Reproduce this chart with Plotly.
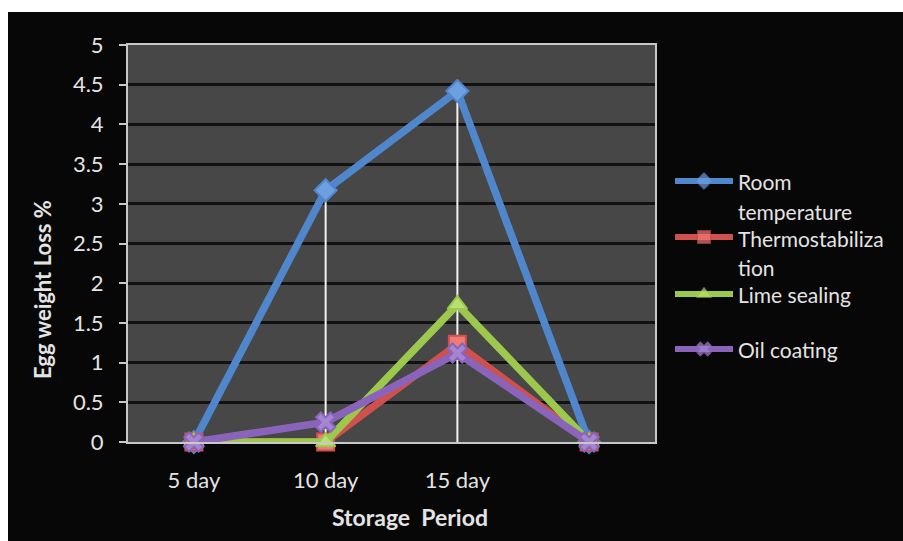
import plotly.graph_objects as go

# Storage period categories (the fourth slot is unlabeled)
periods = ["5 day", "10 day", "15 day", ""]

# Egg weight loss (%) per treatment
room_temperature = [0.0, 3.17, 4.42, 0.0]
thermostabilization = [0.0, 0.0, 1.23, 0.0]
lime_sealing = [0.0, 0.0, 1.73, 0.0]
oil_coating = [0.0, 0.25, 1.12, 0.0]

y_ticks = [0, 0.5, 1, 1.5, 2, 2.5, 3, 3.5, 4, 4.5, 5]

W, H = 903, 541
FONT = "Lato"
TEXT = "#E4E4E4"

series = [
    ("Room temperature", room_temperature, "#4F86CC", "diamond", "#6E9FE0"),
    ("Thermostabilization", thermostabilization, "#CF504C", "square", "#F07A74"),
    ("Lime sealing", lime_sealing, "#9CC84E", "triangle-up", "#B8E070"),
    ("Oil coating", oil_coating, "#8A64BA", "x", "#A585D0"),
]

x_idx = list(range(len(periods)))

fig = go.Figure()

# Drop lines from the highest series value down to the axis
all_vals = [s[1] for s in series]
dx, dy = [], []
for i in x_idx:
    top = max(v[i] for v in all_vals)
    if top > 0:
        dx += [i, i, None]
        dy += [0, top, None]
fig.add_trace(go.Scatter(x=dx, y=dy, mode="lines",
                         line=dict(color="#F2F2F2", width=2),
                         hoverinfo="skip", showlegend=False))

for name, vals, color, sym, mcolor in series:
    fig.add_trace(go.Scatter(
        x=x_idx, y=vals, mode="lines+markers", name=name,
        line=dict(color=color, width=7.5),
        marker=dict(symbol=sym, size=17, color=mcolor,
                    line=dict(color=color, width=2)),
        cliponaxis=False, showlegend=False,
    ))

# Legend keys: a small pixel-scaled subplot to the right of the chart
LX0, LX1, LY0, LY1 = 660, 750, 160, 370
legend_rows = [181, 237, 294, 349]
for (name, vals, color, sym, mcolor), yrow in zip(series, legend_rows):
    fig.add_trace(go.Scatter(
        x=[675, 704, 733], y=[yrow] * 3, mode="lines+markers",
        line=dict(color=color, width=6),
        marker=dict(symbol=sym, size=[0, 13, 0], color=mcolor,
                    line=dict(color=color, width=1)),
        xaxis="x2", yaxis="y2", showlegend=False, hoverinfo="skip",
    ))

annotations = []
legend_text_rows = [(["Room", "temperature"], [181, 211]),
                    (["Thermostabiliza", "tion"], [238, 267]),
                    (["Lime sealing"], [294]),
                    (["Oil coating"], [349])]
for texts, ys in legend_text_rows:
    for t, yy in zip(texts, ys):
        annotations.append(dict(
            x=736 / W, y=1 - yy / H, xref="paper", yref="paper",
            text=t, showarrow=False, xanchor="left", yanchor="middle",
            font=dict(family=FONT, size=21, color=TEXT),
        ))

annotations.append(dict(
    x=42 / W, y=1 - 290 / H, xref="paper", yref="paper",
    text="<b>Egg weight Loss %</b>", textangle=-90, showarrow=False,
    xanchor="center", yanchor="middle",
    font=dict(family=FONT, size=22, color=TEXT),
))
annotations.append(dict(
    x=410 / W, y=1 - 517 / H, xref="paper", yref="paper",
    text="<b>Storage  Period</b>", showarrow=False,
    xanchor="center", yanchor="middle",
    font=dict(family=FONT, size=23, color=TEXT),
))

fig.update_layout(
    width=W, height=H,
    margin=dict(l=0, r=0, t=0, b=0),
    paper_bgcolor="#070707",
    plot_bgcolor="rgba(0,0,0,0)",
    showlegend=False,
    shapes=[
        # white page strips above and left of the chart
        dict(type="rect", xref="paper", yref="paper",
             x0=0, x1=1, y0=1 - 12 / H, y1=1,
             fillcolor="white", line=dict(width=0), layer="below"),
        dict(type="rect", xref="paper", yref="paper",
             x0=0, x1=8 / W, y0=0, y1=1,
             fillcolor="white", line=dict(width=0), layer="below"),
        # grey plot area beneath the gridlines
        dict(type="rect", xref="x domain", yref="y domain",
             x0=0, x1=1, y0=0, y1=1,
             fillcolor="#474747", line=dict(width=0), layer="below"),
    ],
    annotations=annotations,
    xaxis=dict(
        domain=[128 / W, 655 / W], range=[-0.5, 3.5],
        tickvals=x_idx, ticktext=periods,
        showgrid=False, zeroline=False,
        showline=True, linecolor="#C8C8C8", linewidth=2, mirror=True,
        ticks="", ticklabelstandoff=18, automargin=False,
        tickfont=dict(family=FONT, size=22, color=TEXT),
    ),
    yaxis=dict(
        domain=[1 - 442 / H, 1 - 45 / H], range=[0, 5],
        tickvals=y_ticks, ticktext=[f"{v:g}" for v in y_ticks],
        showgrid=True, gridcolor="#121212", gridwidth=3,
        zeroline=False,
        showline=True, linecolor="#C8C8C8", linewidth=2, mirror=True,
        ticks="outside", ticklen=7, tickcolor="#C8C8C8", tickwidth=2,
        ticklabelstandoff=11, automargin=False,
        tickfont=dict(family=FONT, size=22, color=TEXT),
    ),
    xaxis2=dict(domain=[LX0 / W, LX1 / W], range=[LX0, LX1], visible=False,
                anchor="y2", fixedrange=True),
    yaxis2=dict(domain=[1 - LY1 / H, 1 - LY0 / H], range=[LY1, LY0],
                visible=False, anchor="x2", fixedrange=True),
)

fig.write_html("out.html")
